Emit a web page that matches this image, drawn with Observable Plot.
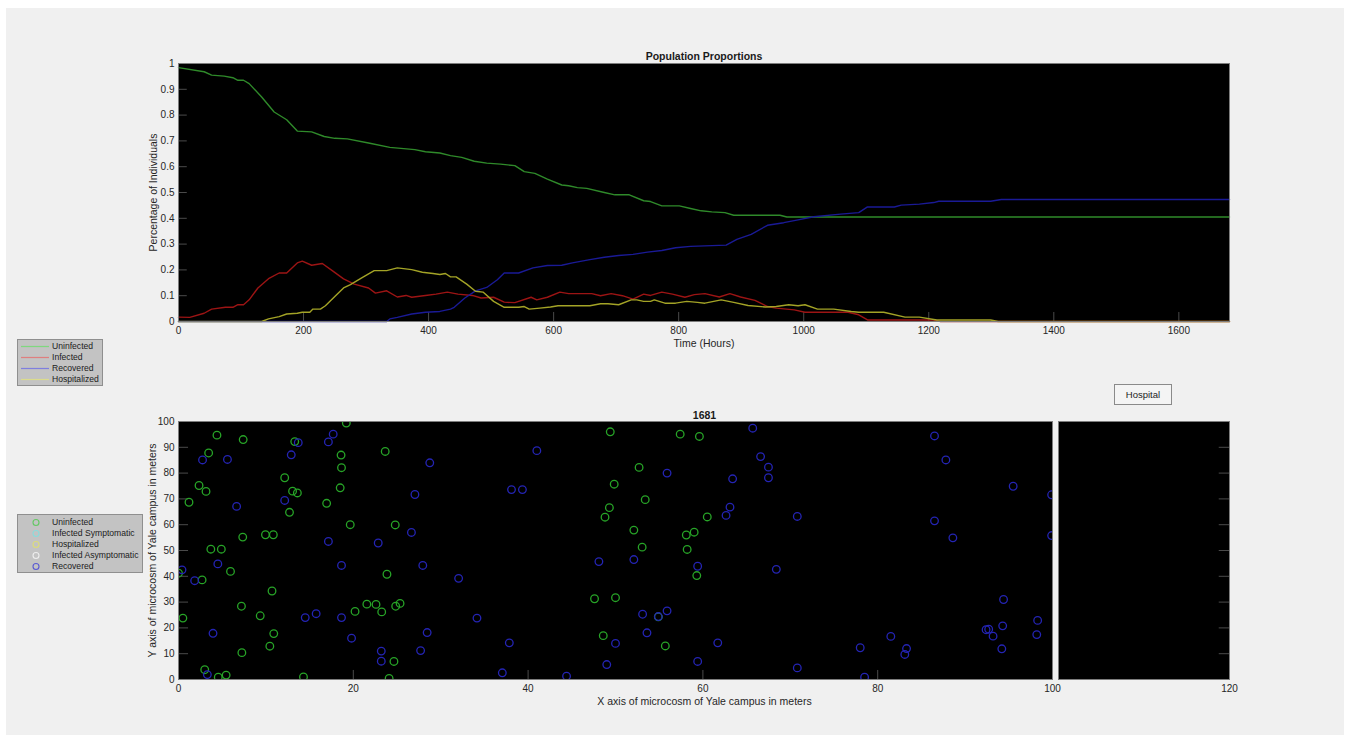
<!DOCTYPE html>
<html>
<head>
<meta charset="utf-8">
<script src="https://cdn.jsdelivr.net/npm/d3@7"></script>
<script src="https://cdn.jsdelivr.net/npm/@observablehq/plot@0.6"></script>
<style>
  html, body { margin: 0; padding: 0; background: #ffffff; }
  #page { position: relative; width: 1350px; height: 741px; overflow: hidden;
          font-family: "Liberation Sans", Arial, Helvetica, sans-serif; }
  #panel { position: absolute; left: 6px; top: 8px; width: 1338px; height: 727px; background: #f0f0f0; }
  .chart { position: absolute; }
  .chart svg { overflow: visible; }
  .legend { position: absolute; background: #c3c3c3; border: 1px solid #8f8f8f; box-sizing: border-box;
            font-size: 8.6px; color: #1c1c1c; }
  .legend .row { position: relative; height: 11.1px; line-height: 11.1px; white-space: nowrap; }
  .legend .row svg { position: absolute; top: 0; left: 0; }
  .legend .row span { position: absolute; left: 34px; top: 0; }
  #hospital { position: absolute; left: 1114px; top: 384px; width: 58px; height: 21px; box-sizing: border-box;
              border: 1px solid #8a8a8a; background: #f4f4f4; font-size: 9.5px; color: #1c1c1c;
              text-align: center; line-height: 19px; }
</style>
</head>
<body>
<div id="page">
  <div id="panel"></div>
  <div id="topChart" class="chart" style="left:0;top:0"></div>
  <div id="fieldChart" class="chart" style="left:0;top:380px"></div>
  <div id="hospitalChart" class="chart" style="left:1000px;top:380px"></div>
  <div id="lineLegend" class="legend" style="left:17px;top:339px;width:86px;height:47px;padding-top:1px"></div>
  <div id="dotLegend" class="legend" style="left:17px;top:514px;width:126px;height:59px;padding-top:2px"></div>
  <div id="hospital">Hospital</div>
</div>
<script>
// Simulation clock at the last frame (hours)
const currentHour = 1681;

// Share of the population in each state over time: [hour, proportion]
const uninfected = [
  [0,0.984],[41,0.968],[53,0.955],[73,0.951],[87,0.945],[95,0.935],[104,0.935],[113,0.922],
  [133,0.870],[153,0.812],[173,0.782],[190,0.738],[213,0.735],[233,0.717],[250,0.710],[270,0.708],
  [304,0.692],[338,0.675],[378,0.666],[395,0.658],[418,0.653],[435,0.643],[453,0.636],[473,0.621],
  [493,0.614],[515,0.610],[538,0.604],[553,0.581],[570,0.574],[590,0.552],[613,0.529],[624,0.526],
  [638,0.519],[653,0.516],[681,0.500],[698,0.491],[721,0.491],[744,0.468],[755,0.465],[773,0.448],
  [801,0.448],[819,0.438],[836,0.429],[853,0.425],[874,0.422],[888,0.412],[962,0.412],[973,0.405],
  [1681,0.405]
];
const infected = [
  [0,0.017],[18,0.016],[41,0.032],[53,0.048],[75,0.055],[87,0.055],[95,0.065],[104,0.065],
  [113,0.084],[127,0.130],[144,0.166],[161,0.188],[173,0.188],[190,0.227],[198,0.234],[213,0.218],
  [230,0.225],[247,0.195],[264,0.165],[281,0.145],[304,0.130],[315,0.110],[333,0.119],[350,0.095],
  [364,0.101],[373,0.094],[395,0.101],[412,0.106],[430,0.114],[447,0.106],[470,0.101],[484,0.091],
  [504,0.094],[521,0.075],[538,0.073],[564,0.094],[573,0.084],[590,0.094],[610,0.114],[624,0.108],
  [661,0.108],[675,0.100],[692,0.108],[710,0.100],[727,0.087],[744,0.106],[755,0.101],[773,0.114],
  [790,0.106],[810,0.094],[825,0.104],[842,0.108],[865,0.095],[882,0.108],[899,0.095],[922,0.082],
  [942,0.058],[956,0.052],[985,0.045],[1002,0.036],[1071,0.036],[1088,0.026],[1102,0.006],[1208,0.006],
  [1219,0],[1681,0]
];
const recovered = [
  [0,0],[333,0],[338,0.010],[350,0.016],[373,0.029],[395,0.036],[418,0.039],[435,0.048],[441,0.055],
  [458,0.091],[475,0.119],[493,0.132],[510,0.162],[521,0.188],[544,0.188],[567,0.208],[590,0.217],
  [613,0.218],[630,0.227],[658,0.240],[681,0.249],[704,0.256],[727,0.260],[750,0.269],[773,0.275],
  [795,0.286],[819,0.291],[876,0.296],[893,0.318],[916,0.338],[942,0.373],[968,0.383],[991,0.394],
  [1016,0.406],[1059,0.416],[1088,0.422],[1102,0.444],[1145,0.444],[1156,0.451],[1185,0.455],
  [1208,0.461],[1216,0.466],[1299,0.466],[1316,0.473],[1681,0.473]
];
const hospitalized = [
  [0,0],[133,0],[144,0.010],[161,0.019],[173,0.029],[190,0.032],[198,0.036],[210,0.036],[215,0.048],
  [227,0.048],[235,0.061],[250,0.097],[264,0.130],[275,0.143],[293,0.169],[313,0.197],[333,0.197],
  [350,0.208],[373,0.201],[390,0.191],[407,0.186],[418,0.182],[427,0.186],[435,0.173],[444,0.173],
  [461,0.145],[475,0.117],[487,0.114],[504,0.078],[521,0.055],[544,0.055],[553,0.058],[561,0.048],
  [578,0.052],[595,0.056],[607,0.061],[658,0.061],[675,0.069],[687,0.069],[704,0.065],[724,0.084],
  [733,0.084],[744,0.078],[755,0.078],[761,0.084],[778,0.071],[795,0.071],[813,0.078],[830,0.074],
  [842,0.071],[868,0.084],[888,0.074],[911,0.062],[939,0.056],[956,0.058],[976,0.065],[991,0.061],
  [1002,0.065],[1022,0.048],[1048,0.048],[1076,0.039],[1088,0.036],[1128,0.036],[1162,0.017],
  [1185,0.017],[1213,0.006],[1299,0.006],[1311,0],[1681,0]
];

// Positions on campus at the last frame: [x metres, y metres]
const uninfectedPos = [
  [0,41.2],[0.5,23.8],[1.2,68.7],[2.35,75.2],[2.7,38.6],[3.0,3.8],[3.15,72.9],[3.45,87.8],[3.7,50.5],
  [4.4,94.7],[4.55,0.9],[4.9,50.5],[5.45,1.7],[5.95,41.9],[7.2,28.4],[7.25,10.4],[7.35,55.2],[7.4,93.0],
  [9.35,24.7],[9.95,56.1],[10.45,12.9],[10.7,34.3],[10.85,56.1],[10.9,17.8],[12.15,78.2],[12.7,64.8],
  [13.05,73.0],[13.3,92.2],[13.6,72.3],[14.3,1.0],[16.95,68.3],[18.5,74.3],[18.6,87.0],[18.65,82.1],
  [19.2,99.4],[19.65,60.0],[20.2,26.4],[21.55,29.2],[22.6,29.1],[23.25,26.2],[23.65,88.4],[23.85,40.8],
  [24.1,0.4],[24.65,7.0],[24.8,59.9],[24.85,28.4],[25.35,29.5],
  [49.4,96.0],[57.4,95.1],[59.6,94.2],[52.7,82.2],[49.85,75.7],[53.4,69.7],[49.3,66.6],[48.8,62.9],
  [60.5,63.0],[52.1,57.9],[59.0,57.1],[58.1,56.0],[53.05,51.3],[58.2,50.4],[59.3,40.3],[47.6,31.3],
  [50.0,31.7],[54.9,24.3],[48.6,17.0],[55.7,13.0]
];
const recoveredPos = [
  [0.4,42.5],[1.85,38.3],[2.75,85.1],[3.3,1.9],[3.95,17.9],[4.5,44.8],[5.6,85.3],[6.65,67.1],
  [12.15,69.4],[12.9,87.1],[13.7,91.8],[14.5,24.0],[15.75,25.5],[17.15,53.5],[17.15,92.1],[17.7,95.1],
  [18.65,44.2],[18.65,24.0],[19.8,16.0],[22.85,52.9],[23.2,11.0],[23.2,7.1],[26.65,57.0],[27.05,71.7],
  [27.7,11.2],[27.95,44.2],[28.45,18.2],[28.75,84.0],[32.05,39.2],[34.15,23.8],[37.05,2.6],[37.85,14.2],
  [38.1,73.6],[39.35,73.6],
  [65.7,97.4],[41.0,88.7],[55.9,80.0],[66.6,86.4],[67.5,82.3],[67.5,78.2],[63.4,77.8],[63.1,66.8],
  [62.65,63.6],[70.8,63.2],[48.1,45.7],[52.1,46.5],[59.4,43.9],[68.4,42.7],[53.1,25.3],[54.9,24.4],
  [55.9,26.6],[53.6,18.1],[50.0,14.0],[61.7,14.2],[49.0,5.8],[59.4,7.0],[70.8,4.5],[44.4,1.3],
  [78.0,12.3],[78.5,0.9],
  [86.5,94.4],[87.8,85.1],[95.5,74.9],[99.9,71.6],[86.5,61.5],[88.6,54.9],[99.9,55.8],[94.4,31.0],
  [98.3,22.9],[94.3,20.8],[92.4,19.3],[92.7,19.5],[93.2,16.8],[98.2,17.4],[81.5,16.7],[83.3,12.0],
  [83.1,9.7],[94.2,11.9]
];

// Axis ticks
const hourTicks = [0, 200, 400, 600, 800, 1000, 1200, 1400, 1600];
const shareTicks = [0, 0.1, 0.2, 0.3, 0.4, 0.5, 0.6, 0.7, 0.8, 0.9, 1];
const campusXTicks = [0, 20, 40, 60, 80, 100];
const campusYTicks = [0, 10, 20, 30, 40, 50, 60, 70, 80, 90, 100];
const hospitalXTicks = [120];

// Legend entries
const lineLegendNames = ["Uninfected", "Infected", "Recovered", "Hospitalized"];
const dotLegendNames = ["Uninfected", "Infected Symptomatic", "Hospitalized", "Infected Asymptomatic", "Recovered"];

// Colours
const lineColors = ["#2f8a2a", "#9c1414", "#1a1a96", "#a3a326"];
const lineLegendColors = ["#7fd87f", "#df7f7f", "#7f7fdf", "#dcdc8c"];
const dotColors = { uninfected: "#27a427", recovered: "#2424b4" };
const dotLegendColors = ["#64c864", "#8adcdc", "#dcdc7a", "#eeeeee", "#5a5ad2"];

const font = "'Liberation Sans', Arial, Helvetica, sans-serif";
const tickColor = "#4a4a4a";
const frameColor = "#7d7d7d";
const baseStyle = { background: "transparent", fontFamily: font, fontSize: "10px", color: "#262626", overflow: "visible" };
const fmtShare = d => String(+d.toFixed(1));

// ---- Population proportions over time ----
const series = [uninfected, infected, recovered, hospitalized];
const topChart = Plot.plot({
  width: 1350, height: 352,
  marginLeft: 178, marginRight: 121, marginTop: 63, marginBottom: 31,
  style: baseStyle,
  x: { domain: [0, currentHour], ticks: hourTicks, tickSize: 0, tickPadding: 5, label: null, tickFormat: d => String(d) },
  y: { domain: [0, 1], ticks: shareTicks, tickSize: 0, tickPadding: 4, label: null, tickFormat: fmtShare },
  marks: [
    Plot.frame({ fill: "black" }),
    Plot.ruleX(hourTicks.slice(1), { y1: 0, y2: 0.035, stroke: tickColor }),
    Plot.ruleY(shareTicks.slice(1, -1), { x1: 0, x2: 14, stroke: tickColor }),
    ...series.map((s, i) => Plot.line(s, { x: d => d[0], y: d => d[1], stroke: lineColors[i], strokeWidth: 1.4 })),
    Plot.frame({ stroke: frameColor }),
    Plot.text(["Population Proportions"], { frameAnchor: "top", textAnchor: "middle", lineAnchor: "middle", dy: -7,
      fontWeight: "bold", fontSize: 10.5, fill: "#1a1a1a" }),
    Plot.text(["Time (Hours)"], { frameAnchor: "bottom", textAnchor: "middle", lineAnchor: "middle", dy: 22,
      fontSize: 10.5, fill: "#262626" }),
    Plot.text(["Percentage of Individuals"], { frameAnchor: "left", textAnchor: "middle", lineAnchor: "middle",
      rotate: -90, dx: -25, fontSize: 10.5, fill: "#262626" })
  ]
});
document.getElementById("topChart").append(topChart);

// ---- Campus positions at the last frame ----
const fieldChart = Plot.plot({
  width: 1100, height: 340,
  marginLeft: 178, marginRight: 48, marginTop: 41, marginBottom: 41,
  style: baseStyle,
  x: { domain: [0, 100], ticks: campusXTicks, tickSize: 0, tickPadding: 5, label: null, tickFormat: d => String(d) },
  y: { domain: [0, 100], ticks: campusYTicks, tickSize: 0, tickPadding: 4, label: null, tickFormat: d => String(d) },
  marks: [
    Plot.frame({ fill: "black" }),
    Plot.ruleX(campusXTicks.slice(1, -1), { y1: 0, y2: 3.5, stroke: tickColor }),
    Plot.ruleY(campusYTicks.slice(1, -1), { x1: 0, x2: 1.15, stroke: tickColor }),
    Plot.dot(uninfectedPos, { x: d => d[0], y: d => d[1], r: 3.8, stroke: dotColors.uninfected, strokeWidth: 1.3, clip: true }),
    Plot.dot(recoveredPos, { x: d => d[0], y: d => d[1], r: 3.8, stroke: dotColors.recovered, strokeWidth: 1.3, clip: true }),
    Plot.frame({ stroke: frameColor }),
    Plot.text([String(currentHour)], { frameAnchor: "top", textAnchor: "middle", lineAnchor: "middle", dx: 89, dy: -6,
      fontWeight: "bold", fontSize: 10.5, fill: "#1a1a1a" }),
    Plot.text(["X axis of microcosm of Yale campus in meters"], { frameAnchor: "bottom", textAnchor: "middle",
      lineAnchor: "middle", dx: 89, dy: 22, fontSize: 10.5, fill: "#262626" }),
    Plot.text(["Y axis of microcosm of Yale campus in meters"], { frameAnchor: "left", textAnchor: "middle",
      lineAnchor: "middle", rotate: -90, dx: -26, fontSize: 10.5, fill: "#262626" })
  ]
});
document.getElementById("fieldChart").append(fieldChart);

// ---- Hospital area ----
const hospitalChart = Plot.plot({
  width: 260, height: 340,
  marginLeft: 58, marginRight: 31, marginTop: 41, marginBottom: 41,
  style: baseStyle,
  x: { domain: [100, 120], ticks: hospitalXTicks, tickSize: 0, tickPadding: 5, label: null, tickFormat: d => String(d) },
  y: { domain: [0, 100], axis: null },
  marks: [
    Plot.frame({ fill: "black" }),
    Plot.ruleY(campusYTicks.slice(1, -1), { x1: 118.8, x2: 120, stroke: tickColor }),
    Plot.frame({ stroke: frameColor })
  ]
});
document.getElementById("hospitalChart").append(hospitalChart);

// ---- Legends ----
function legendRow(box, glyph, name) {
  const row = document.createElement("div");
  row.className = "row";
  row.innerHTML = glyph + "<span>" + name + "</span>";
  box.append(row);
}
const lineBox = document.getElementById("lineLegend");
lineLegendNames.forEach((name, i) => {
  legendRow(lineBox,
    `<svg width="34" height="11"><line x1="3" x2="31" y1="5.5" y2="5.5" stroke="${lineLegendColors[i]}" stroke-width="1.2"/></svg>`,
    name);
});
const dotBox = document.getElementById("dotLegend");
dotLegendNames.forEach((name, i) => {
  legendRow(dotBox,
    `<svg width="34" height="11"><circle cx="18" cy="5.5" r="3" fill="none" stroke="${dotLegendColors[i]}" stroke-width="1.1"/></svg>`,
    name);
});
</script>
</body>
</html>
